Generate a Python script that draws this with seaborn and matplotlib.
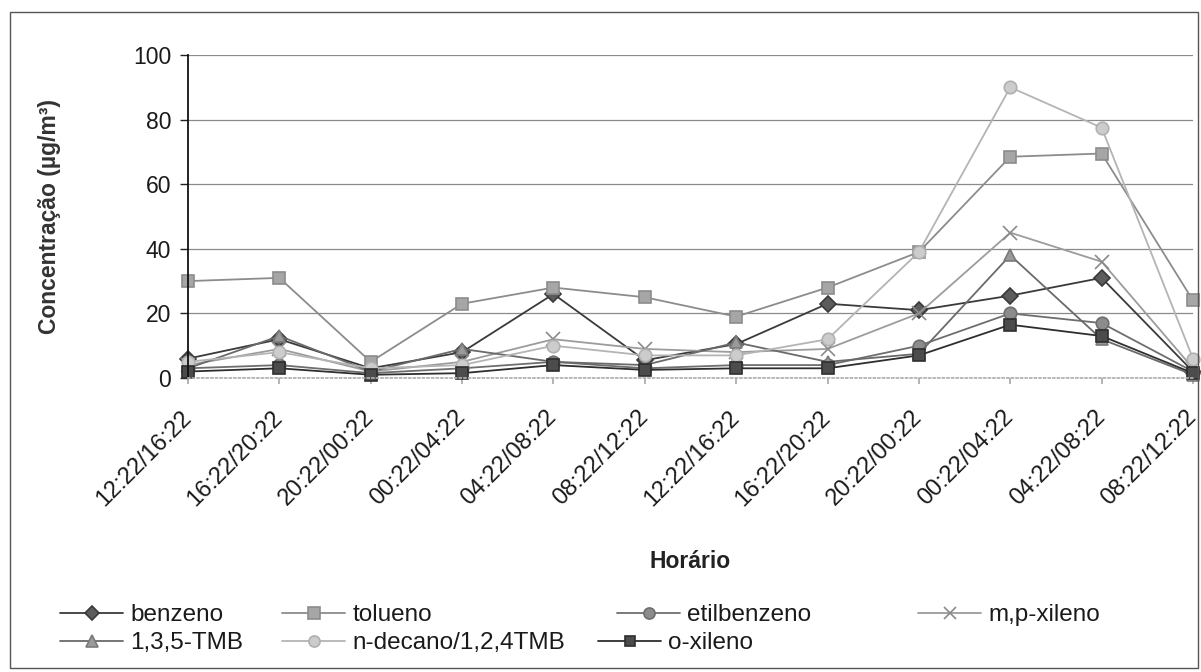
import matplotlib
matplotlib.use("Agg")
import matplotlib.pyplot as plt
import seaborn as sns
import pandas as pd
from matplotlib.lines import Line2D
from matplotlib.patches import Rectangle

# Intervalos de amostragem (eixo x)
horarios = ["12:22/16:22", "16:22/20:22", "20:22/00:22", "00:22/04:22",
            "04:22/08:22", "08:22/12:22", "12:22/16:22", "16:22/20:22",
            "20:22/00:22", "00:22/04:22", "04:22/08:22", "08:22/12:22"]

# Concentrações em µg/m³
benzeno = [6, 12, 3, 8, 26, 5.5, 10.5, 23, 21, 25.5, 31, 2]
tolueno = [30, 31, 5, 23, 28, 25, 19, 28, 39, 68.5, 69.5, 24]
etilbenzeno = [3, 4, 1.5, 3, 5, 3, 4, 4, 10, 20, 17, 2]
mp_xileno = [4, 9, 2, 5, 12, 9, 8, 9, 20, 45, 36, 3]
tmb_135 = [3, 13, 2, 9, 5, 4, 11, 5, 7.5, 38, 12, 1]
n_decano_124tmb = [5, 8, 3, 4, 10, 7, 7, 12, 39, 90, 77.5, 6]
o_xileno = [2, 3, 1, 1.5, 4, 2.5, 3, 3, 7, 16.5, 13, 1.5]

nomes = ["benzeno", "tolueno", "etilbenzeno", "m,p-xileno",
         "1,3,5-TMB", "n-decano/1,2,4TMB", "o-xileno"]
valores = [benzeno, tolueno, etilbenzeno, mp_xileno,
           tmb_135, n_decano_124tmb, o_xileno]

estilos = {
    "benzeno":           dict(color="#3a3a3a", marker="D", mfc="#5c5c5c", mec="#3a3a3a", ms=8),
    "tolueno":           dict(color="#8c8c8c", marker="s", mfc="#a6a6a6", mec="#8c8c8c", ms=9),
    "etilbenzeno":       dict(color="#6e6e6e", marker="o", mfc="#8c8c8c", mec="#6e6e6e", ms=9),
    "m,p-xileno":        dict(color="#9c9c9c", marker="x", mfc="#8a8a8a", mec="#8a8a8a", ms=10),
    "1,3,5-TMB":         dict(color="#6a6a6a", marker="^", mfc="#9a9a9a", mec="#7a7a7a", ms=9),
    "n-decano/1,2,4TMB": dict(color="#b4b4b4", marker="o", mfc="#cccccc", mec="#b0b0b0", ms=9),
    "o-xileno":          dict(color="#2e2e2e", marker="s", mfc="#4c4c4c", mec="#2e2e2e", ms=8),
}

df = pd.DataFrame({
    "pos": [i for _ in nomes for i in range(len(horarios))],
    "composto": [n for n in nomes for _ in horarios],
    "conc": [v for serie in valores for v in serie],
})

sns.set_theme(style="white")
plt.rcParams["font.family"] = ["Liberation Sans", "DejaVu Sans"]

W, H = 1201, 672
fig = plt.figure(figsize=(W / 100, H / 100), dpi=100)
ax = fig.add_axes([188 / W, 1 - 378 / H, (1193 - 188) / W, (378 - 55) / H])

for nome in nomes:
    st = estilos[nome]
    sub = df[df["composto"] == nome]
    sns.lineplot(data=sub, x="pos", y="conc", ax=ax, color=st["color"],
                 marker=st["marker"], markersize=st["ms"],
                 markerfacecolor=st["mfc"], markeredgecolor=st["mec"],
                 markeredgewidth=1.2, linewidth=1.3, clip_on=False,
                 legend=False)

ax.set_xlim(0, len(horarios) - 1)
ax.set_ylim(0, 100)
ax.set_yticks(range(0, 101, 20))
ax.set_xticks(range(len(horarios)))
ax.set_xticklabels(horarios, rotation=45, ha="right", va="center",
                   rotation_mode="anchor", fontsize=17, color="#1a1a1a")
ax.tick_params(axis="y", labelsize=16.5, labelcolor="#1a1a1a", length=6,
               width=1, color="#222222", pad=6, left=True)
ax.tick_params(axis="x", length=4, color="#aaaaaa", pad=22, bottom=True)
ax.yaxis.grid(True, color="#8a8a8a", linewidth=0.9)
ax.xaxis.grid(False)
ax.set_axisbelow(True)
for s in ["top", "right"]:
    ax.spines[s].set_visible(False)
ax.spines["left"].set_color("#111111")
ax.spines["left"].set_linewidth(1.3)
ax.spines["bottom"].set_color("#b0b0b0")
ax.spines["bottom"].set_linestyle(":")
ax.set_xlabel("")
ax.set_ylabel("")

fig.text(50 / W, 1 - 216 / H, "Concentração (µg/m³)", rotation=90,
         ha="center", va="center", fontsize=16.5, fontweight="bold",
         color="#333333")
fig.text(690 / W, 1 - 562 / H, "Horário", ha="center", va="center",
         fontsize=16.5, fontweight="bold", color="#222222")

# Legenda em duas linhas, cada entrada posicionada individualmente
posicoes = {
    "benzeno": (60, 615), "tolueno": (282, 615),
    "etilbenzeno": (617, 615), "m,p-xileno": (918, 615),
    "1,3,5-TMB": (60, 643), "n-decano/1,2,4TMB": (282, 643),
    "o-xileno": (598, 643),
}
for nome in nomes:
    st = estilos[nome]
    h = Line2D([], [], color=st["color"], marker=st["marker"],
               markersize=st["ms"] - 1, markerfacecolor=st["mfc"],
               markeredgecolor=st["mec"], markeredgewidth=1.2, linewidth=1.3)
    x, y = posicoes[nome]
    fig.legend(handles=[h], labels=[nome], loc="center left",
               bbox_to_anchor=(x / W, 1 - y / H), frameon=False,
               borderpad=0, borderaxespad=0, handlelength=2.6,
               handletextpad=0.3, fontsize=17.5, labelcolor="#1a1a1a")

fig.patches.append(Rectangle((10 / W, 4 / H), (1198 - 10) / W, (668 - 12) / H,
                             transform=fig.transFigure, fill=False,
                             edgecolor="#555555", linewidth=1))

fig.savefig("out.png", dpi=100)
